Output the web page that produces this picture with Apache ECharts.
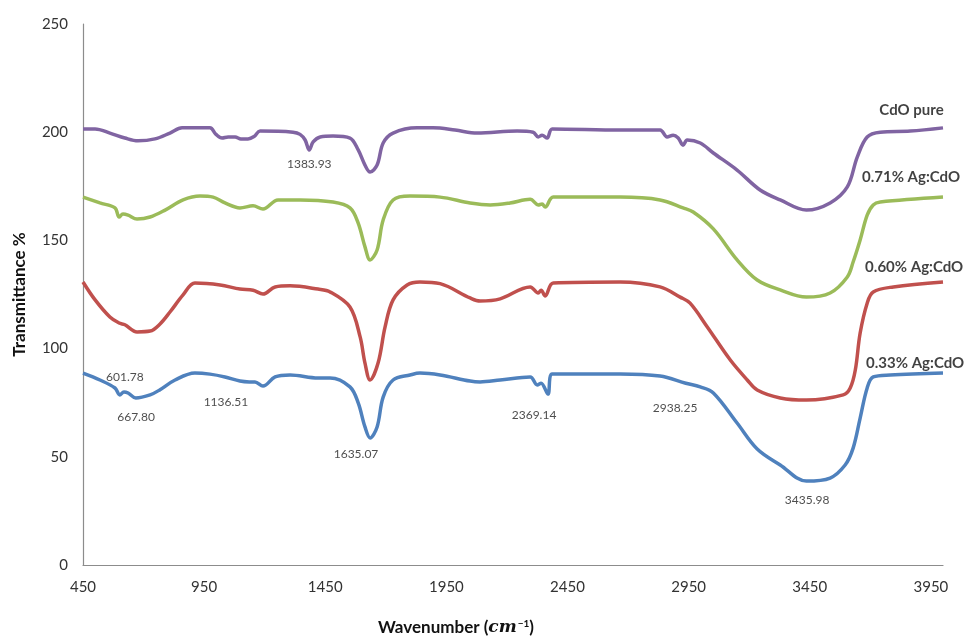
<!DOCTYPE html>
<html>
<head>
<meta charset="utf-8">
<title>FTIR spectra of CdO and Ag:CdO</title>
<script src="https://cdn.jsdelivr.net/npm/echarts@6/dist/echarts.min.js"></script>
<style>
  html, body { margin: 0; padding: 0; background: #ffffff; }
  #chart { width: 965px; height: 636px; }
</style>
</head>
<body>
<div id="chart"></div>
<script>
// Wavenumber tick labels shown on the x axis
const xTicks = [450, 950, 1450, 1950, 2450, 2950, 3450, 3950];

// Series names (drawn as inline labels next to each trace)
const seriesNames = ['CdO pure', '0.71% Ag:CdO', '0.60% Ag:CdO', '0.33% Ag:CdO'];

// Transmittance spectra: [wavenumber (cm^-1), transmittance %]
const cdoPure = [
  [450, 201.5], [500, 201.5], [561, 199.6], [623, 197.3], [677, 196], [747, 196.9],
  [809, 199.6], [859, 202], [974, 202], [999, 199], [1024, 197.3], [1049, 197.8],
  [1078, 197.8], [1102, 196.9], [1131, 196.9], [1156, 198], [1181, 200.5], [1317, 200],
  [1346, 199], [1367, 196.4], [1383.93, 191.8], [1400, 195.5], [1429, 197.8], [1482, 198.2],
  [1552, 197.3], [1586, 191.8], [1614, 184.8], [1635.07, 181.6], [1664, 184.8], [1689, 195],
  [1730, 199.6], [1829, 202], [1895, 202], [1986, 201], [2077, 199.6], [2242, 200.5],
  [2308, 200], [2329, 197.8], [2345, 198.6], [2366, 197.3], [2387, 201.5], [2667, 201],
  [2832, 201], [2861, 197.8], [2886, 198.6], [2907, 197.3], [2927, 194], [2944, 196.4],
  [2998, 195], [3052, 190.4], [3150, 182.5], [3245, 173.3], [3328, 168.7], [3435.98, 164],
  [3534, 167.3], [3605, 174.7], [3646, 188.5], [3687, 197.8], [3741, 200], [3865, 200.5],
  [4000, 202]
];

const ag071 = [
  [450, 170], [520, 167.3], [582, 165], [599, 160.8], [615, 162.2], [636, 161.7],
  [673, 159.9], [727, 160.8], [789, 164], [863, 168.7], [933, 170.5], [987, 170],
  [1036, 167.3], [1098, 165], [1152, 166], [1193, 164.5], [1255, 168.7], [1346, 168.7],
  [1482, 167.7], [1552, 165], [1586, 158], [1614, 147], [1635.07, 141], [1664, 145.6],
  [1689, 159.4], [1730, 168.7], [1800, 170.5], [1924, 170], [2048, 167.3], [2131, 166.4],
  [2213, 167.3], [2296, 169], [2329, 166.4], [2345, 166.8], [2358, 165.4], [2391, 170],
  [2667, 170], [2832, 168.7], [2927, 165], [2969, 163.1], [3052, 155.3], [3150, 141],
  [3233, 131.7], [3328, 127.1], [3435.98, 123.8], [3534, 125.7], [3605, 133.1], [3629, 140],
  [3658, 150.2], [3687, 161.7], [3712, 166.4], [3741, 167.7], [4000, 170]
];

const ag060 = [
  [450, 130.8], [500, 122.5], [561, 114.6], [599, 111.8], [623, 111], [673, 107.7],
  [727, 108.1], [768, 111.4], [809, 116.9], [863, 124.8], [912, 130.3], [1016, 129.4],
  [1098, 127.5], [1152, 127], [1193, 125.2], [1243, 128.5], [1305, 129], [1420, 127.5],
  [1470, 126.2], [1552, 119.2], [1594, 105.4], [1614, 93.3], [1635.07, 85.5], [1668, 93.3],
  [1697, 110], [1730, 122.5], [1788, 129.4], [1841, 130.8], [1924, 130], [2048, 123.4],
  [2089, 122], [2172, 123], [2296, 128.5], [2329, 125.7], [2341, 127], [2358, 124.3],
  [2391, 130.3], [2667, 130.8], [2832, 128.5], [2915, 123.8], [2956, 121], [3027, 110],
  [3122, 94.7], [3192, 85.5], [3233, 80.9], [3328, 77.2], [3435.98, 76.2], [3588, 78.6],
  [3617, 81.8], [3638, 90.1], [3658, 107.2], [3687, 121], [3712, 126.2], [3795, 128.5],
  [4000, 130.8]
];

const ag033 = [
  [450, 88.7], [520, 85.5], [582, 81.8], [601.78, 78.6], [619, 80], [636, 79.5],
  [667.8, 77.2], [727, 78.6], [768, 81], [830, 85.5], [912, 88.7], [974, 88.2],
  [1036, 86.9], [1098, 85], [1136.51, 84.6], [1160, 84.6], [1193, 82.7], [1243, 86.9],
  [1305, 87.8], [1420, 86.4], [1470, 86.4], [1552, 82.3], [1586, 74.9], [1614, 63.8],
  [1635.07, 58.7], [1664, 63.8], [1689, 77.6], [1730, 85.5], [1800, 87.8], [1841, 88.7],
  [1924, 87.8], [2048, 85], [2089, 84.6], [2172, 85.5], [2296, 86.9], [2325, 83.2],
  [2341, 84], [2369.14, 79], [2387, 88.3], [2667, 88.3], [2832, 87.3], [2938.25, 84],
  [2998, 82.3], [3052, 79.5], [3150, 65.6], [3233, 53.6], [3328, 46.2], [3435.98, 38.8],
  [3534, 40.2], [3596, 46.2], [3629, 54], [3658, 67.9], [3687, 81.8], [3712, 86.9],
  [3782, 87.8], [4000, 88.7]
];

// Peak positions called out on the spectra
const peakLabels = ['1383.93', '601.78', '667.80', '1136.51', '1635.07', '2369.14', '2938.25', '3435.98'];

const colors = ['#8064A2', '#9BBB59', '#C0504D', '#4F81BD'];
const spectra = [cdoPure, ag071, ag060, ag033];

// Where each text sits, in axis units
const peakAnchors = [
  [1384, 185.3], [623, 86.9], [669, 68.4], [1040, 75.3],
  [1577, 51.3], [2312, 69.3], [2894, 72.5], [3439, 30]
];
const nameAnchors = [[3870, 210.3], [3868, 179.3], [3881, 137.7], [3885, 93.3]];

const FONT = 'Lato, "Open Sans", "DejaVu Sans", sans-serif';

const chart = echarts.init(document.getElementById('chart'), null, { renderer: 'canvas' });

const lineSeries = spectra.map((data, i) => ({
  name: seriesNames[i],
  type: 'line',
  data: data,
  showSymbol: false,
  smooth: 0.35,
  lineStyle: { color: colors[i], width: 3.5 },
  itemStyle: { color: colors[i] },
  z: 2
}));

const peakSeries = {
  type: 'scatter',
  silent: true,
  symbolSize: 0,
  clip: false,
  data: peakAnchors.map((p, i) => ({ value: p, name: peakLabels[i] })),
  label: {
    show: true,
    position: 'inside',
    formatter: p => p.name,
    color: '#222',
    fontSize: 12,
    fontFamily: FONT
  },
  z: 3
};

const nameSeries = {
  type: 'scatter',
  silent: true,
  symbolSize: 0,
  clip: false,
  data: nameAnchors.map((p, i) => ({ value: p, name: seriesNames[i] })),
  label: {
    show: true,
    position: 'inside',
    formatter: p => p.name,
    color: '#111',
    fontSize: 15,
    fontWeight: 'bold',
    fontFamily: FONT
  },
  z: 3
};

chart.setOption({
  backgroundColor: '#ffffff',
  animation: false,
  grid: {
    left: 83, right: 22, top: 24, bottom: 71,
    containLabel: false,
    outerBoundsMode: 'none'
  },
  xAxis: {
    type: 'value',
    min: 450,
    max: 4000,
    name: 'Wavenumber ({i|cm}{s|−1})',
    nameLocation: 'middle',
    nameGap: 54,
    nameTextStyle: {
      fontFamily: FONT, fontSize: 17, fontWeight: 'bold', color: '#111',
      padding: [0, 114, 0, 0],
      rich: {
        i: { fontFamily: '"DejaVu Serif", serif', fontStyle: 'italic', fontWeight: 'bold', fontSize: 17, color: '#111' },
        s: { fontFamily: FONT, fontSize: 10, fontWeight: 'bold', color: '#111', verticalAlign: 'top', padding: [0, 0, 8, 1] }
      }
    },
    axisLine: { show: true, lineStyle: { color: '#8c8c8c', width: 1.2 } },
    axisTick: { show: false },
    splitLine: { show: false },
    axisLabel: {
      customValues: xTicks,
      formatter: v => String(v),
      margin: 15,
      color: '#333',
      fontSize: 15,
      fontFamily: FONT
    }
  },
  yAxis: {
    type: 'value',
    min: 0,
    max: 250,
    interval: 50,
    name: 'Transmittance %',
    nameLocation: 'middle',
    nameGap: 55,
    nameRotate: 90,
    nameTextStyle: { fontFamily: FONT, fontSize: 17, fontWeight: 'bold', color: '#111' },
    axisLine: { show: true, lineStyle: { color: '#8c8c8c', width: 1.2 } },
    axisTick: { show: false },
    splitLine: { show: false },
    axisLabel: { margin: 15, color: '#333', fontSize: 15, fontFamily: FONT }
  },
  series: [...lineSeries, peakSeries, nameSeries]
});
</script>
</body>
</html>
